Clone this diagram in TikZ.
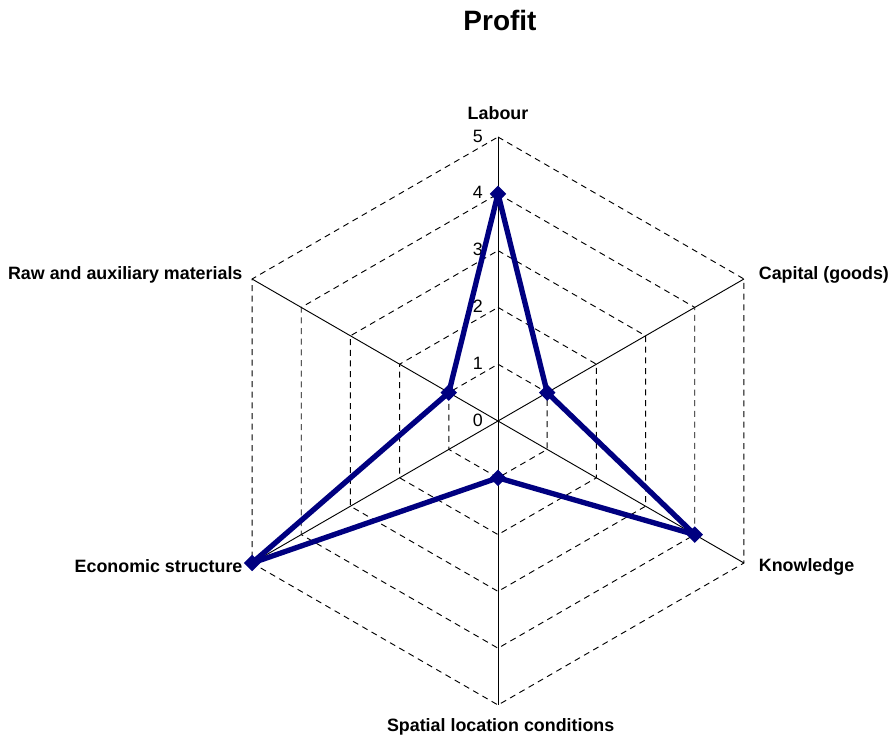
\documentclass[tikz,border=0pt]{standalone}
\usepackage{fontspec}
\setmainfont{Liberation Sans}
\usetikzlibrary{shapes.geometric}
\definecolor{navyline}{RGB}{0,0,128}
\tikzset{
  grid/.style={black,line width=0.7pt,dash pattern=on 4.5pt off 3.5pt},
  axisline/.style={black,line width=0.7pt},
  series/.style={navyline,line width=4pt,line join=round},
  dot/.style={diamond,fill=navyline,inner sep=0pt,minimum size=12.5pt},
  axlabel/.style={font=\bfseries\fontsize{13.4}{15}\selectfont,inner sep=0pt},
  ticklabel/.style={font=\fontsize{13.4}{15}\selectfont,inner sep=0pt,anchor=east}
}

\begin{document}
\begin{tikzpicture}[x=0.75pt,y=0.75pt]
\useasboundingbox (0,0) rectangle (891,740);
\node[font=\bfseries\fontsize{21}{25}\selectfont] (title) at (500,720) {Profit};
\begin{scope}[shift={(498,319)}]
% grid
\foreach \k in {1,...,5}
  \draw[grid] (90:\k*56.8) -- (30:\k*56.8) -- (-30:\k*56.8) -- (-90:\k*56.8)
    -- (-150:\k*56.8) -- (150:\k*56.8) -- cycle;
% axes
\coordinate (o) at (0,0);
\foreach \a/\n in {90/lab,30/cap,-30/kno,-90/spa,-150/eco,150/raw}{
  \coordinate (\n) at (\a:284);
  \draw[axisline] (o) -- (\n);
}
% scale
\foreach \k in {0,...,5}
  \node[ticklabel] (t\k) at (-15,\k*56.8+1) {\k};
% data
\coordinate (d1) at (90:4*56.8);
\coordinate (d2) at (30:1*56.8);
\coordinate (d3) at (-30:4*56.8);
\coordinate (d4) at (-90:1*56.8);
\coordinate (d5) at (-150:5*56.8);
\coordinate (d6) at (150:1*56.8);
\draw[series] (d1) -- (d2) -- (d3) -- (d4) -- (d5) -- (d6) -- cycle;
\foreach \i in {1,...,6}
  \node[dot] (m\i) at (d\i) {};
\end{scope}
% labels
\node[axlabel,above=13pt] (llab) at (lab) {Labour};
\node[axlabel,anchor=west] (lcap) at ([xshift=11,yshift=3]cap) {Capital (goods)};
\node[axlabel,anchor=west] (lkno) at ([xshift=11,yshift=-3]kno) {Knowledge};
\node[axlabel,anchor=north] (lspa) at ([xshift=2,yshift=-10]spa) {Spatial location conditions};
\node[axlabel,anchor=east] (leco) at ([xshift=-7,yshift=-2]eco) {Economic structure};
\node[axlabel,anchor=east] (lraw) at ([xshift=-7,yshift=3]raw) {Raw and auxiliary materials};
\end{tikzpicture}
\end{document}
